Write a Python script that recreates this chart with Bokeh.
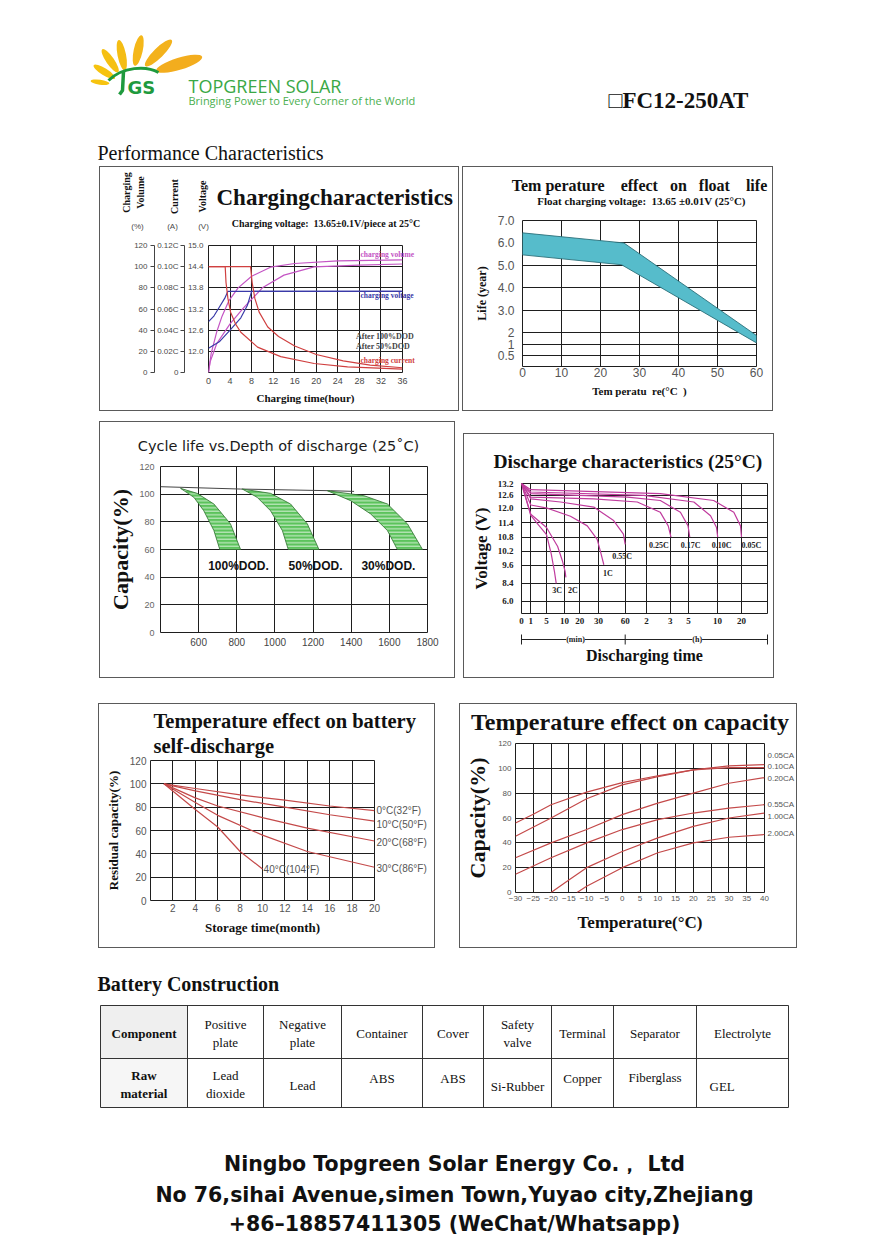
import numpy as np
from bokeh.plotting import figure
from bokeh.models import Range1d, LinearAxis, FixedTicker, Label, Legend, LegendItem, Spacer, Title
from bokeh.layouts import column, row
from bokeh.embed import file_html
from bokeh.resources import INLINE

SERIF = "Liberation Serif"
SANS = "Liberation Sans"
GRID = "#1e1e1e"
TG = "#4a4a4a"
NB = "\u00a0"

# ---------------- Chart 1: charging characteristics ----------------
chg_time_ticks = [0, 4, 8, 12, 16, 20, 24, 28, 32, 36]
chg_pct_ticks = [0, 20, 40, 60, 80, 100, 120]
chg_pct_labels = ["0", "20", "40", "60", "80", "100", "120"]
chg_amp_labels = ["0", "0.02C", "0.04C", "0.06C", "0.08C", "0.10C", "0.12C"]
chg_volt_ticks = [20, 40, 60, 80, 100, 120]
chg_volt_labels = ["12.0", "12.6", "13.2", "13.8", "14.4", "15.0"]

vol_a_h = [0, 0.5, 1.5, 2.5, 3.8, 5.5, 8, 11.5, 16, 24, 36]
vol_a_pct = [0, 18, 38, 53, 68, 80, 91, 99.5, 103, 105.5, 106.5]
vol_b_h = [0, 0.3, 1.5, 4, 6.5, 10, 14, 19.6, 28, 36]
vol_b_pct = [0, 10, 27, 46, 61, 80, 92, 99.8, 101.5, 102.5]

volt_a_h = [0, 1, 2, 3, 3.6, 36]
volt_a_v = [12.84, 13.0, 13.25, 13.5, 13.7, 13.7]
volt_b_h = [0, 2, 4, 6, 7.2, 8.0, 36]
volt_b_v = [12.09, 12.27, 12.6, 12.95, 13.3, 13.7, 13.7]

cur_a_h = [0, 3.1, 3.25, 3.6, 4.1, 5, 6, 9.1, 13.4, 19.6, 25.8, 36]
cur_a_c = [0.10, 0.10, 0.085, 0.07, 0.057, 0.046, 0.038, 0.024, 0.015, 0.0085, 0.0053, 0.0031]
cur_b_h = [0, 7.8, 8.1, 8.6, 9.4, 11, 13, 16, 20, 25, 30, 36]
cur_b_c = [0.10, 0.10, 0.085, 0.07, 0.057, 0.043, 0.034, 0.025, 0.017, 0.011, 0.007, 0.0045]

# ---------------- Chart 2: temperature effect on float life ----------------
life_temp_ticks = [0, 10, 20, 30, 40, 50, 60]
life_year_ticks = [0.5, 1, 2, 3, 4, 5, 6, 7]
life_year_labels = ["0.5", "1", "2", "3.0", "4.0", "5.0", "6.0", "7.0"]
life_axis_years = [0, 0.5, 1, 2, 3, 4, 5, 6, 7]
life_axis_pos = [0.5, 1.0, 1.5, 2, 3, 4, 5, 6, 7]
life_up_t = [0, 26, 60]
life_up_y = [6.45, 6.0, 1.76]
life_lo_t = [0, 25.4, 60]
life_lo_y = [5.47, 5.03, 1.1]

# ---------------- Chart 3: cycle life ----------------
cyc_x_ticks = [600, 800, 1000, 1200, 1400, 1600, 1800]
cyc_y_ticks = [0, 20, 40, 60, 80, 100, 120]
cyc_top_x = [400, 820, 1290, 1415]
cyc_top_y = [105.4, 103.7, 102.5, 102.0]
dod100_l_x = [505, 575, 627, 680, 711]
dod100_l_y = [104.2, 97.7, 88, 73.7, 60]
dod100_r_x = [505, 592, 680, 767, 820]
dod100_r_y = [104.2, 100.6, 92.9, 78.5, 60]
dod50_l_x = [829, 907, 977, 1039, 1070]
dod50_l_y = [103.7, 97.7, 88, 73.7, 60]
dod50_r_x = [829, 977, 1082, 1170, 1231]
dod50_r_y = [103.7, 100.6, 92.9, 78.5, 60]
dod30_l_x = [1275, 1397, 1502, 1590, 1642]
dod30_l_y = [102.5, 95.3, 85.7, 73.7, 60]
dod30_r_x = [1275, 1467, 1590, 1695, 1774]
dod30_r_y = [102.5, 98.9, 92.9, 78.5, 60]
dod_names = ["100%DOD.", "50%DOD.", "30%DOD."]
dod_label_x = [809, 1213, 1595]
dod_label_y = [48.4, 48.4, 48.4]

# ---------------- Chart 4: discharge characteristics ----------------
dis_time_ticks = [0, 1, 5, 10, 20, 30, 60, 120, 180, 300, 600, 1200]
dis_time_labels = ["0", "1", "5", "10", "20", "30", "60", "2", "3", "5", "10", "20"]
dis_time_pos = [0, 9.3, 25, 43, 58.3, 77, 103.7, 125, 148.7, 167, 196, 220]
dis_volt_ticks = [6.0, 8.4, 9.6, 10.2, 10.8, 11.4, 12.0, 12.6, 13.2]
dis_volt_labels = ["6.0", "8.4", "9.6", "10.2", "10.8", "11.4", "12.0", "12.6", "13.2"]
dis_volt_pos = [12, 29.7, 47.3, 61.3, 75.3, 89.3, 103.7, 116.3, 128]
dis_names = ["3C", "2C", "1C", "0.55C", "0.25C", "0.17C", "0.10C", "0.05C"]
dis_t = [
    [0, 1, 3, 5, 6.3, 7.2, 7.7],
    [0, 1, 5, 8.1, 9.4, 10.4, 10.9],
    [0, 1, 5.2, 13.9, 24, 29.3, 32.6, 36],
    [0, 1, 8.9, 27.5, 47, 58, 60],
    [0, 1, 27.5, 94, 155, 175, 185],
    [0, 1, 66, 155, 247, 297, 313],
    [0, 1, 112, 355, 528, 590, 605],
    [0, 1, 155, 560, 1008, 1175, 1200],
]
dis_v = [
    [13.2, 11.7, 11.3, 10.9, 10.1, 9.2, 8.4],
    [13.2, 11.75, 11.2, 10.4, 9.8, 9.2, 8.8],
    [13.2, 12.15, 12.0, 11.67, 11.27, 10.7, 10.13, 9.63],
    [13.2, 12.44, 12.29, 12.05, 11.49, 10.92, 10.49],
    [13.2, 12.52, 12.44, 12.29, 11.83, 11.27, 10.8],
    [13.2, 12.69, 12.52, 12.36, 11.83, 11.27, 10.8],
    [13.2, 12.77, 12.6, 12.29, 11.69, 11.2, 10.8],
    [13.2, 12.89, 12.69, 12.36, 11.83, 11.27, 10.8],
]
dis_label_dx = [1, 7, 4, -3, -12, 1, 4, 10]
dis_label_dy = [-7, -13, -9, -12, -8, -8, -8, -8]

# ---------------- Chart 5: self-discharge ----------------
sd_x_ticks = [2, 4, 6, 8, 10, 12, 14, 16, 18, 20]
sd_y_ticks = [0, 20, 40, 60, 80, 100, 120]
sd_names = ["0°C(32°F)", "10°C(50°F)", "20°C(68°F)", "30°C(86°F)", "40°C(104°F)"]
sd_m = [
    [1.2, 4, 8, 12, 16, 20],
    [1.2, 4, 8, 12, 16, 20],
    [1.2, 4, 6, 10, 14, 20],
    [1.2, 4, 6, 10, 14, 20],
    [1.2, 4, 6, 8, 10],
]
sd_c = [
    [100, 96, 90.5, 86, 81, 77],
    [100, 94, 86.5, 80, 73.5, 68],
    [100, 88, 81, 71, 62, 51],
    [100, 84, 73, 56, 42, 28.5],
    [100, 78, 63, 42, 27],
]
sd_label_x = [20.2, 20.2, 20.2, 20.2, 10.1]
sd_label_y = [77.1, 65.1, 50.0, 27.7, 27.0]

# ---------------- Chart 6: temperature effect on capacity ----------------
tc_x_ticks = [-30, -25, -20, -15, -10, -5, 0, 5, 10, 15, 20, 25, 30, 35, 40]
tc_y_ticks = [0, 20, 40, 60, 80, 100, 120]
tc_names = ["0.05CA", "0.10CA", "0.20CA", "0.55CA", "1.00CA", "2.00CA"]
tc_t = [
    [-30, -25, -20, -10, 0, 10, 20, 30, 40],
    [-30, -20, -10, 0, 10, 20, 30, 40],
    [-30, -20, -10, 0, 10, 20, 30, 40],
    [-30, -20, -10, 0, 10, 20, 30, 40],
    [-20, -15, -10, 0, 10, 20, 30, 40],
    [-12.7, -10, 0, 10, 20, 30, 40],
]
tc_c = [
    [56, 63, 70.7, 80.8, 88.5, 94, 98.7, 102, 103],
    [45.3, 60, 75.5, 86.7, 93.3, 98.7, 100.5, 100.5],
    [28, 40, 50.7, 62.7, 72, 80, 88, 92.5],
    [14.7, 28, 40, 50.7, 58.7, 64, 68, 70.7],
    [0, 10, 20, 33, 44, 53.3, 60, 64],
    [0, 5, 20, 32, 40, 44.5, 46.7],
]
tc_label_y = [110, 101.5, 91.5, 70.6, 61.5, 47.3]

# ---------------- Table / footer ----------------
tbl_head = ["Component", "Positive\nplate", "Negative\nplate", "Container", "Cover",
            "Safety\nvalve", "Terminal", "Separator", "Electrolyte"]
tbl_row = ["Raw\nmaterial", "Lead\ndioxide", "Lead", "ABS", "ABS", "Si-Rubber",
           "Copper", "Fiberglass", "GEL"]
footer_lines = ["Ningbo Topgreen Solar Energy Co.， Ltd",
                "No 76,sihai Avenue,simen Town,Yuyao city,Zhejiang",
                "+86–18857411305 (WeChat/Whatsapp)"]


# ---------------- helpers ----------------
def lab(p, x, y, text, size, font=SERIF, style="normal", color="#111111",
        align="left", baseline="middle", angle=0, bg=None):
    p.add_layout(Label(x=x, y=y, text=text, text_font=font, text_font_size=size,
                       text_font_style=style, text_color=color, text_align=align,
                       text_baseline=baseline, angle=angle, background_fill_color=bg))


def style_axis(ax, font=SANS, size="9px", color=TG, fstyle="normal", standoff=4):
    ax.axis_line_color = None
    ax.major_tick_line_color = None
    ax.minor_tick_line_color = None
    ax.major_tick_in = 0
    ax.major_tick_out = 0
    ax.major_label_text_font = font
    ax.major_label_text_font_size = size
    ax.major_label_text_color = color
    ax.major_label_text_font_style = fstyle
    ax.major_label_standoff = standoff
    ax.axis_label_text_font = SERIF
    ax.axis_label_text_font_style = "bold"
    ax.axis_label_text_color = "#111111"


def chart(w, h, xr, yr, ml, mr, mt, mb):
    p = figure(width=w, height=h, x_range=Range1d(*xr), y_range=Range1d(*yr),
               output_backend="svg", toolbar_location=None,
               min_border_left=ml, min_border_right=mr, min_border_top=mt, min_border_bottom=mb)
    p.border_fill_color = None
    p.background_fill_color = "white"
    p.outline_line_color = GRID
    p.outline_line_width = 1
    p.styles = {"outline": "1px solid #5a5a5a", "outline-offset": "-1px"}
    for g in list(p.xgrid) + list(p.ygrid):
        g.grid_line_color = GRID
        g.grid_line_width = 1
        g.grid_line_alpha = 1
    return p


def set_ticks(p, xt=None, yt=None):
    if xt is not None:
        t = FixedTicker(ticks=xt)
        p.xaxis.ticker = t
        p.xgrid.ticker = t
    if yt is not None:
        t = FixedTicker(ticks=yt)
        p.yaxis.ticker = t
        p.ygrid.ticker = t


def page_fig(w, h, y0, y1):
    p = figure(width=w, height=h, x_range=Range1d(0, w), y_range=Range1d(y1, y0),
               output_backend="svg", toolbar_location=None,
               x_axis_location=None, y_axis_location=None, min_border=0)
    p.grid.visible = False
    p.outline_line_color = None
    p.background_fill_color = None
    p.border_fill_color = None
    return p


# ---------------- Header ----------------
hdr = page_fig(881, 166, 0, 166)
leaf_x = [99.5, 103.8, 109.7, 121.3, 137.7, 158, 178.7]
leaf_y = [81.7, 71.3, 60.3, 54.7, 50, 52.5, 63.3]
leaf_len = [19, 25, 28, 31, 31, 37, 48]
leaf_wid = [5, 7, 8, 8.5, 9, 10, 12]
leaf_ang = [-8, -32, -55.5, -78.7, 77.6, 44.6, 17]
leaf_col = ["#f6c30f", "#f6c30f", "#f5c013", "#f4bd14", "#f4b719", "#f3b21c", "#f3ad1e"]
hdr.ellipse(x=leaf_x, y=leaf_y, width=leaf_len, height=leaf_wid,
            angle=[np.deg2rad(a) for a in leaf_ang], angle_units="rad",
            fill_color=leaf_col, line_color=None)
hdr.bezier(x0=[108], y0=[80], x1=[158], y1=[72], cx0=[122], cy0=[66], cx1=[146], cy1=[65],
           line_color="#1f9a3e", line_width=3)
hdr.line(x=[123, 122, 119], y=[71, 90, 94], line_color="#1f9a3e", line_width=3.5)
lab(hdr, 127, 87, "GS", "18px", font="DejaVu Sans", style="bold", color="#1f9a3e")
lab(hdr, 188, 85, "TOPGREEN SOLAR", "18px", font="Open Sans", color="#3aa845")
lab(hdr, 188, 99.5, "Bringing Power to Every Corner of the World", "11px", font="Open Sans",
    color="#4caf50")
lab(hdr, 608, 100, "□FC12-250AT", "23px", style="bold", color="#111111")
lab(hdr, 97, 152, "Performance Characteristics", "20px", color="#111111")

# ---------------- Chart 1 ----------------
p1 = chart(360, 245, (0, 36), (0, 120), 109, 57, 79, 39)
set_ticks(p1, chg_time_ticks, chg_pct_ticks)
style_axis(p1.xaxis[0], size="9px", standoff=5)
p1.xaxis.axis_label = "Charging time(hour)"
p1.xaxis.axis_label_text_font_size = "11px"
p1.xaxis.axis_label_standoff = 5
ax_v = p1.yaxis[0]
ax_v.ticker = FixedTicker(ticks=chg_volt_ticks)
style_axis(ax_v, size="8px", standoff=5)
ax_v.major_label_overrides = {v: s for v, s in zip(chg_volt_ticks, chg_volt_labels)}
ax_a = LinearAxis(ticker=FixedTicker(ticks=chg_pct_ticks))
style_axis(ax_a, size="8px", standoff=2)
ax_a.major_label_overrides = {v: s for v, s in zip(chg_pct_ticks, chg_amp_labels)}
ax_a.axis_line_color = "#444444"
ax_a.major_tick_line_color = "#444444"
ax_a.major_tick_out = 4
p1.add_layout(ax_a, "left")
ax_p = LinearAxis(ticker=FixedTicker(ticks=chg_pct_ticks))
style_axis(ax_p, size="8px", standoff=3)
ax_p.major_label_overrides = {v: s for v, s in zip(chg_pct_ticks, chg_pct_labels)}
ax_p.axis_line_color = "#444444"
ax_p.major_tick_line_color = "#444444"
ax_p.major_tick_out = 4
p1.add_layout(ax_p, "left")


def v2pct(v):
    return [20 + (x - 12.0) / 0.6 * 20 for x in v]


def c2pct(c):
    return [x / 0.02 * 20 for x in c]


VOLC, VOLTC, CURC = "#c455c4", "#3a3aa8", "#d04040"
p1.line(vol_a_h, vol_a_pct, line_color=VOLC, line_width=1.2)
p1.line(vol_b_h, vol_b_pct, line_color=VOLC, line_width=1.2)
p1.line(volt_a_h, v2pct(volt_a_v), line_color=VOLTC, line_width=1.2)
p1.line(volt_b_h, v2pct(volt_b_v), line_color=VOLTC, line_width=1.2)
p1.line(cur_a_h, c2pct(cur_a_c), line_color=CURC, line_width=1.2)
p1.line(cur_b_h, c2pct(cur_b_c), line_color=CURC, line_width=1.2)

# ---------------- Chart 2 ----------------
life_tick_pos = [float(v) for v in np.interp(life_year_ticks, life_axis_years, life_axis_pos)]
p2 = chart(311, 245, (0, 60), (0.5, 7.0), 60, 17, 54, 45)
set_ticks(p2, life_temp_ticks, life_tick_pos)
style_axis(p2.xaxis[0], size="12px", color="#555555", standoff=1)
style_axis(p2.yaxis[0], size="12px", color="#555555", standoff=8)
p2.yaxis.major_label_overrides = {v: s for v, s in zip(life_tick_pos, life_year_labels)}
p2.xaxis.axis_label = "Tem peratu" + NB + " re(°C" + NB + " )"
p2.xaxis.axis_label_text_font_size = "11px"
p2.xaxis.axis_label_standoff = 5
p2.yaxis.axis_label = "Life (year)"
p2.yaxis.axis_label_text_font_size = "12px"
p2.yaxis.axis_label_standoff = 6
band_x = life_up_t + life_lo_t[::-1]
band_y = list(np.interp(life_up_y, life_axis_years, life_axis_pos)) + \
    list(np.interp(life_lo_y, life_axis_years, life_axis_pos))[::-1]
p2.patch(band_x, band_y, fill_color="#56bccb", line_color="#2b6f79", line_width=0.9)

# ---------------- Chart 3 ----------------
p3 = chart(356, 257, (400, 1800), (0, 120), 61, 28, 45, 46)
set_ticks(p3, cyc_x_ticks, cyc_y_ticks)
style_axis(p3.xaxis[0], size="10px", color="#444444", standoff=5)
style_axis(p3.yaxis[0], size="9px", color="#666666", standoff=6)
p3.yaxis.axis_label = "Capacity(%)"
p3.yaxis.axis_label_text_font_size = "22px"
p3.yaxis.axis_label_standoff = 3
p3.line(cyc_top_x, cyc_top_y, line_color="#444444", line_width=1)
for lx, ly, rx, ry in [(dod100_l_x, dod100_l_y, dod100_r_x, dod100_r_y),
                       (dod50_l_x, dod50_l_y, dod50_r_x, dod50_r_y),
                       (dod30_l_x, dod30_l_y, dod30_r_x, dod30_r_y)]:
    p3.patch(lx + rx[::-1], ly + ry[::-1], fill_color="#5cc35c", line_color="#2e6e2e",
             line_width=0.8, hatch_pattern="horizontal_line", hatch_color="white",
             hatch_scale=3.5, hatch_weight=1.0, hatch_alpha=0.75)
for nm, x, y in zip(dod_names, dod_label_x, dod_label_y):
    lab(p3, x, y, nm, "12px", font=SANS, style="bold", align="center")

# ---------------- Chart 4 ----------------
p4 = chart(311, 245, (0, 246), (0, 128), 58, 7, 50, 65)
set_ticks(p4, dis_time_pos, dis_volt_pos)
style_axis(p4.xaxis[0], font=SERIF, size="9px", color="#222222", fstyle="bold", standoff=4)
style_axis(p4.yaxis[0], font=SERIF, size="9px", color="#222222", fstyle="bold", standoff=8)
p4.xaxis.major_label_overrides = {v: s for v, s in zip(dis_time_pos, dis_time_labels)}
p4.yaxis.major_label_overrides = {v: s for v, s in zip(dis_volt_pos, dis_volt_labels)}
p4.xaxis.axis_label = "Discharging time"
p4.xaxis.axis_label_text_font_size = "16px"
p4.xaxis.axis_label_standoff = 20
p4.yaxis.axis_label = "Voltage (V)"
p4.yaxis.axis_label_text_font_size = "17px"
p4.yaxis.axis_label_standoff = 4
p4.add_layout(Title(text="Discharge characteristics (25°C)", align="left", offset=-28,
                    text_font=SERIF, text_font_size="19.5px", text_font_style="bold",
                    text_color="#111111", standoff=24), "above")
DISC = "#c03c9e"
for nm, t, v, dx, dy in zip(dis_names, dis_t, dis_v, dis_label_dx, dis_label_dy):
    xs = list(np.interp(t, dis_time_ticks, dis_time_pos))
    ys = list(np.interp(v, dis_volt_ticks, dis_volt_pos))
    p4.line(xs, ys, line_color=DISC, line_width=1.2)
    lab(p4, xs[-1] + dx, ys[-1] + dy, nm, "8px", style="bold", color="#222222", align="center")

# ---------------- Chart 5 ----------------
p5 = chart(337, 245, (0, 20), (0, 120), 52, 61, 57, 48)
set_ticks(p5, sd_x_ticks, sd_y_ticks)
style_axis(p5.xaxis[0], size="10px", color="#555555", standoff=3)
style_axis(p5.yaxis[0], size="10px", color="#555555", standoff=4)
p5.xaxis.axis_label = "Storage time(month)"
p5.xaxis.axis_label_text_font_size = "13px"
p5.xaxis.axis_label_standoff = 5
p5.yaxis.axis_label = "Residual capacity(%)"
p5.yaxis.axis_label_text_font_size = "13px"
p5.yaxis.axis_label_standoff = 6
r5 = LinearAxis(ticker=FixedTicker(ticks=sd_label_y[:4]))
style_axis(r5, size="10px", color="#555555", standoff=2)
r5.major_label_overrides = {v: s for v, s in zip(sd_label_y[:4], sd_names[:4])}
p5.add_layout(r5, "right")
REDC = "#c44a4a"
for m, c in zip(sd_m, sd_c):
    p5.line(m, c, line_color=REDC, line_width=1.2)
lab(p5, sd_label_x[4], sd_label_y[4], sd_names[4], "10px", font=SANS, color="#555555")

# ---------------- Chart 6 ----------------
p6 = chart(338, 245, (-30, 40), (0, 120), 56, 33, 40, 56)
set_ticks(p6, tc_x_ticks, tc_y_ticks)
style_axis(p6.xaxis[0], size="8px", color="#555555", standoff=3)
style_axis(p6.yaxis[0], size="8px", color="#555555", standoff=4)
p6.xaxis.axis_label = "Temperature(°C)"
p6.xaxis.axis_label_text_font_size = "17px"
p6.xaxis.axis_label_standoff = 9
p6.yaxis.axis_label = "Capacity(%)"
p6.yaxis.axis_label_text_font_size = "22px"
p6.yaxis.axis_label_standoff = 5
r6 = LinearAxis(ticker=FixedTicker(ticks=tc_label_y))
style_axis(r6, size="8px", color="#555555", standoff=3)
r6.major_label_overrides = {v: s for v, s in zip(tc_label_y, tc_names)}
p6.add_layout(r6, "right")
for t, c in zip(tc_t, tc_c):
    p6.line(t, c, line_color=REDC, line_width=1.2)

# ---------------- Bottom: table + footer ----------------
bot = page_fig(881, 301, 948, 1249)
col_edges = [100, 187, 263, 341, 422, 483, 551, 613, 696, 788]
row_edges = [1005, 1058, 1107]
bot.quad(left=[100, 100], right=[187, 187], top=[1005, 1058], bottom=[1058, 1107],
         fill_color=["#efefef", "#f6f6f6"], line_color=None)
bot.segment(x0=[100] * 3, x1=[788] * 3, y0=row_edges, y1=row_edges, line_color="#333333",
            line_width=1)
bot.segment(x0=col_edges, x1=col_edges, y0=[1005] * 10, y1=[1107] * 10, line_color="#333333",
            line_width=1)
centers = [(a + b) / 2 for a, b in zip(col_edges[:-1], col_edges[1:])]
lab(bot, 97, 983, "Battery Construction", "20px", style="bold")
for i, (cx, txt) in enumerate(zip(centers, tbl_head)):
    lab(bot, cx, 1033, txt, "13px", style="bold" if i == 0 else "normal", align="center")
row_y = [1084, 1084, 1085, 1078, 1078, 1086, 1078, 1077, 1086]
for i, (cx, txt, y) in enumerate(zip(centers, tbl_row, row_y)):
    if txt == "GEL":
        lab(bot, 709, y, txt, "13px")
    else:
        lab(bot, cx, y, txt, "13px", style="bold" if i == 0 else "normal", align="center")
for txt, y in zip(footer_lines, [1163, 1194, 1223]):
    lab(bot, 454, y, txt, "20.5px", font="DejaVu Sans", style="bold", color="#111111",
        align="center")

# ---------------- Decor overlay (texts outside plot frames), page pixel coords ----------------
dec = page_fig(881, 1249, 0, 1249)
dec.styles = {"position": "absolute", "left": "0px", "top": "0px", "z-index": "5",
              "pointer-events": "none"}
# chart 1
lab(dec, 216, 197, "Chargingcharacteristics", "23px", style="bold")
lab(dec, 325.5, 223, "Charging voltage:" + NB + " 13.65±0.1V/piece at 25°C", "10px",
    style="bold", align="center")
lab(dec, 133, 192, "Charging\nVolume", "10px", style="bold", align="center", angle=np.pi / 2)
lab(dec, 174, 196, "Current", "10px", style="bold", align="center", angle=np.pi / 2)
lab(dec, 202, 196, "Voltage", "10px", style="bold", align="center", angle=np.pi / 2)
lab(dec, 137, 226, "(%)", "8px", font=SANS, color=TG, align="center")
lab(dec, 172, 226, "(A)", "8px", font=SANS, color=TG, align="center")
lab(dec, 203, 226, "(V)", "8px", font=SANS, color=TG, align="center")
lab(dec, 360, 254, "charging volume", "7.5px", style="bold", color=VOLC)
lab(dec, 360, 295, "charging voltage", "7.5px", style="bold", color=VOLTC)
lab(dec, 360, 360, "charging current", "7.5px", style="bold", color=CURC)
d1 = dec.line([], [], line_color="#555555", line_width=1)
d2 = dec.line([], [], line_color="#555555", line_width=1)
dec.add_layout(Legend(items=[LegendItem(label="After 100%DOD", renderers=[d1]),
                             LegendItem(label="After 50%DOD", renderers=[d2])],
                      location=(327, 1249 - 351), background_fill_alpha=0,
                      border_line_color=None, label_text_font=SERIF,
                      label_text_font_size="8px", label_text_font_style="bold",
                      glyph_width=24, glyph_height=8, label_height=8, spacing=1, padding=0,
                      margin=0, label_standoff=5))
# chart 2
lab(dec, 639, 185, "Tem perature" + NB * 3 + " effect" + NB * 2 + " on" + NB * 2 + " float"
    + NB * 3 + " life", "16px", style="bold", align="center")
lab(dec, 641, 200.5, "Float charging voltage:" + NB + " 13.65 ±0.01V (25°C)", "11px",
    style="bold", align="center")
# chart 3
lab(dec, 278, 445, "Cycle life vs.Depth of discharge (25˚C)", "14.5px", font="DejaVu Sans",
    color="#1a1a1a", align="center")
# chart 4 bracket under the time axis
bx0 = 521
bx = [bx0 + dis_time_pos[0], bx0 + dis_time_pos[6], bx0 + 246]
dec.segment(x0=[bx[0]], y0=[639], x1=[bx[2]], y1=[639], line_color="#222222", line_width=1)
dec.segment(x0=bx, y0=[634] * 3, x1=bx, y1=[644] * 3, line_color="#222222", line_width=1)
lab(dec, 575, 639, "(min)", "8px", style="bold", color="#222222", align="center", bg="white")
lab(dec, 696.7, 639, "(h)", "8px", style="bold", color="#222222", align="center", bg="white")
# chart 5
lab(dec, 153, 720, "Temperature effect on battery", "20.5px", style="bold")
lab(dec, 153, 745, "self-discharge", "20.5px", style="bold")
# chart 6
lab(dec, 629.5, 721, "Temperature effect on capacity", "24px", style="bold", align="center")

# ---------------- Layout ----------------
row1 = row(Spacer(width=99, height=245), column(p1), Spacer(width=3, height=245), column(p2))
row2 = row(Spacer(width=99, height=257), column(p3), Spacer(width=8, height=257),
           column(Spacer(width=311, height=12), p4))
row3 = row(Spacer(width=98, height=245), column(p5), Spacer(width=24, height=245), column(p6))
page = column(hdr, row1, Spacer(width=881, height=10), row2, Spacer(width=881, height=25),
              row3, bot, dec)

open("out.html", "w").write(file_html(page, INLINE))
